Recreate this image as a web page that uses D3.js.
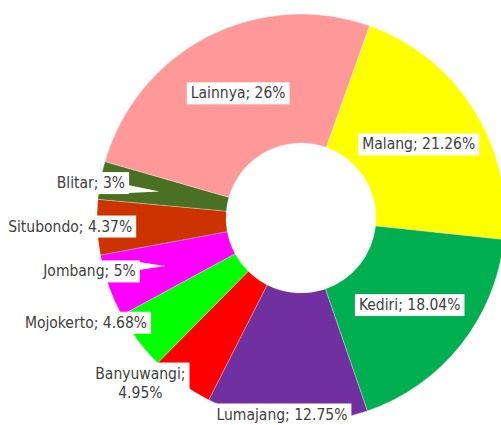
<!DOCTYPE html>
<html>
<head>
<meta charset="utf-8">
<script src="https://cdn.jsdelivr.net/npm/d3@7"></script>
<style>
  html, body { margin: 0; padding: 0; background: #fff; }
  svg { display: block; }
  .lbl { font-family: "DejaVu Sans Condensed", "DejaVu Sans", sans-serif; font-size: 15.5px; fill: #404040; }
</style>
</head>
<body>
<svg id="chart" width="501" height="425"></svg>
<script>
// Share of each district (percent), drawn clockwise
const categories = ["Malang", "Kediri", "Lumajang", "Banyuwangi", "Mojokerto", "Jombang", "Situbondo", "Blitar", "Lainnya"];
const shares = [21.26, 18.04, 12.75, 4.95, 4.68, 5, 4.37, 3, 26];
const sliceColors = ["#FFFF00", "#00B050", "#7030A0", "#FF0000", "#00FF00", "#FF00FF", "#CC3300", "#4A7023", "#FF9999"];

// Label placement: radius from centre and angular nudge (degrees) off the slice middle
const labelLayout = {
  Malang:     { r: 139, nudge: 0 },
  Kediri:     { r: 139, nudge: 0 },
  Lumajang:   { r: 197, nudge: 1.6 },
  Banyuwangi: { r: 230, nudge: 8.5, wrap: true },
  Mojokerto:  { r: 239, nudge: 11 },
  Jombang:    { r: 218, nudge: 5.4, pointer: true },
  Situbondo:  { r: 231, nudge: 0.6 },
  Blitar:     { r: 213, nudge: -1.1, pointer: true },
  Lainnya:    { r: 140, nudge: 0.5 }
};

const cx = 301, cy = 218, rOuter = 204, rInner = 75;
const startDeg = 19.6;

const data = categories.map((c, i) => ({ name: c, value: shares[i], color: sliceColors[i] }));

const pie = d3.pie()
  .sort(null)
  .value(d => d.value)
  .startAngle(startDeg * Math.PI / 180)
  .endAngle(startDeg * Math.PI / 180 + 2 * Math.PI);

const arc = d3.arc().innerRadius(rInner).outerRadius(rOuter);
const arcs = pie(data);

const svg = d3.select("#chart");
const g = svg.append("g").attr("transform", `translate(${cx},${cy})`);

g.selectAll("path.slice")
  .data(arcs)
  .join("path")
  .attr("class", "slice")
  .attr("d", arc)
  .attr("fill", d => d.data.color)
  .attr("stroke", "#ffffff")
  .attr("stroke-opacity", 0.5)
  .attr("stroke-width", 0.6);

function polar(r, a) { return [r * Math.sin(a), -r * Math.cos(a)]; }

const labels = g.append("g");
arcs.forEach(d => {
  const lay = labelLayout[d.data.name];
  const mid = (d.startAngle + d.endAngle) / 2;
  const [x, y] = polar(lay.r, mid + lay.nudge * Math.PI / 180);
  const grp = labels.append("g");
  const box = grp.append("rect").attr("fill", "#fff");
  const ptr = grp.append("path").attr("fill", "#fff");
  const t = grp.append("text").attr("class", "lbl").attr("text-anchor", "middle");
  const lines = lay.wrap ? [d.data.name + ";", d.data.value.toFixed(2) + "%"] : [`${d.data.name}; ${d.data.value}%`];
  const lh = 19;
  lines.forEach((s, i) => {
    t.append("tspan").attr("x", x).attr("y", y + (i - (lines.length - 1) / 2) * lh).attr("dy", "0.35em").text(s);
  });
  const bb = t.node().getBBox();
  const padX = 4, padY = 2;
  const bx = bb.x - padX, by = bb.y - padY, bw = bb.width + 2 * padX, bh = bb.height + 2 * padY;
  box.attr("x", bx).attr("y", by).attr("width", bw).attr("height", bh);
  if (lay.pointer) {
    const [tx, ty] = polar(rInner + (rOuter - rInner) * 0.535, mid);
    const yc = Math.max(by + 5, Math.min(by + bh - 5, ty));
    ptr.attr("d", `M${bx + bw - 1},${yc - 4}L${tx},${ty}L${bx + bw - 1},${yc + 4}Z`);
  }
});
</script>
</body>
</html>
